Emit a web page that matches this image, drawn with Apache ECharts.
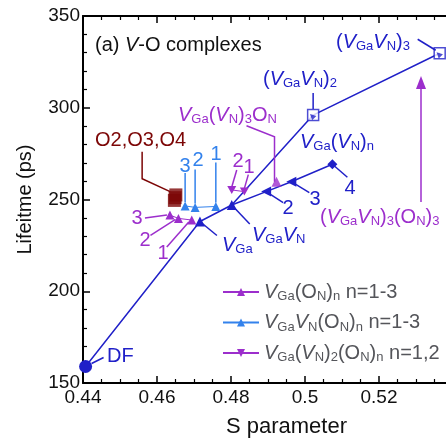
<!DOCTYPE html>
<html>
<head>
<meta charset="utf-8">
<script src="https://cdn.jsdelivr.net/npm/echarts@6/dist/echarts.min.js"></script>
<style>
html, body { margin: 0; padding: 0; background: #fff; overflow: hidden; }
#chart { width: 490px; height: 440px; }
</style>
</head>
<body>
<div id="chart"></div>
<script>
var BLUE = '#2020c8', LBLUE = '#3382ec', PURPLE = '#9c2ecc', DRED = '#7c0606';
var FONT = '"Liberation Sans", Arial, sans-serif';

// S parameter / lifetime (ps)
// DF -> VGa -> VGaVN -> (VGaVN)2 -> (VGaVN)3
var mainS = [0.4407, 0.4716, 0.4802, 0.5022, 0.5364];
var mainT = [159, 238, 247, 296, 329.7];
// VGa(VN)n, n = 1..4
var vnS = [0.4802, 0.4895, 0.4963, 0.5074];
var vnT = [247, 254.3, 259.7, 269.2];
// VGa(ON)n, n = 1..3
var onS = [0.4694, 0.4658, 0.4635];
var onT = [238.8, 239.7, 241.5];
// VGaVN(ON)n, n = 1..3
var vnonS = [0.4759, 0.4703, 0.4676];
var vnonT = [246.2, 245.7, 246.5];
// VGa(VN)2(ON)n, n = 1,2
var v2onS = [0.4836, 0.4802];
var v2onT = [254.3, 255.2];
// VGa(VN)3ON
var v3onS = [0.4923];
var v3onT = [259.7];
// O2, O3, O4
var oxS = [0.4647, 0.4649, 0.4651];
var oxT = [249.5, 251, 252.5];

// the figure is cut at the right; the axis runs to 0.55 past the edge of the window
var xTicks = { min: 0.44, max: 0.55, interval: 0.02, lastLabel: 0.52 };
var yTicks = { min: 150, max: 350, interval: 50 };

function zip(a, b) { return a.map(function (v, i) { return [v, b[i]]; }); }

var rich = {
  n: { fontSize: 20, lineHeight: 22, fontFamily: FONT },
  i: { fontSize: 20, lineHeight: 22, fontFamily: FONT, fontStyle: 'italic' },
  s: { fontSize: 13, lineHeight: 10, fontFamily: FONT, verticalAlign: 'bottom' }
};

var legendNames = ['VGa(ON)n', 'VGaVN(ON)n', 'VGa(VN)2(ON)n'];
var legendText = {
  'VGa(ON)n': '{i|V}{s|Ga}{n|(O}{s|N}{n|)}{s|n}{n| n=1-3}',
  'VGaVN(ON)n': '{i|V}{s|Ga}{i|V}{s|N}{n|(O}{s|N}{n|)}{s|n}{n| n=1-3}',
  'VGa(VN)2(ON)n': '{i|V}{s|Ga}{n|(}{i|V}{s|N}{n|)}{s|2}{n|(O}{s|N}{n|)}{s|n}{n| n=1,2}'
};

var mainSymbols = ['circle', 'triangle', 'triangle', 'none', 'none'];
var mainSizes = [13, 10, 10, 0, 0];
var vnSymbols = ['none', 'triangle', 'triangle', 'diamond'];
var downTri = 'path://M0,0 L10,0 L5,9 Z';

var chart = echarts.init(document.getElementById('chart'));

function axisCommon() {
  return {
    axisLine: { lineStyle: { color: '#000', width: 2 } },
    axisTick: { inside: true, length: 7, lineStyle: { color: '#000', width: 1.5 } },
    minorTick: { show: true, length: 4, lineStyle: { color: '#000', width: 1.2 } },
    splitLine: { show: false }
  };
}

var xb = Object.assign(axisCommon(), {
  type: 'value', min: xTicks.min, max: xTicks.max, interval: xTicks.interval,
  name: 'S parameter', nameLocation: 'middle', nameGap: 33,
  nameTextStyle: { fontSize: 22, fontFamily: FONT, color: '#111' },
  axisLabel: { fontSize: 19, fontFamily: FONT, color: '#111', margin: 5,
    formatter: function (v) { return v > xTicks.lastLabel + 1e-6 ? '' : String(+v.toFixed(2)); } }
});
xb.minorTick.splitNumber = 4;
var xt = Object.assign(axisCommon(), {
  type: 'value', position: 'top', min: xTicks.min, max: xTicks.max, interval: xTicks.interval,
  axisLabel: { show: false }
});
xt.minorTick.splitNumber = 4;
var yl = Object.assign(axisCommon(), {
  type: 'value', min: yTicks.min, max: yTicks.max, interval: yTicks.interval,
  name: 'Lifeitme (ps)', nameLocation: 'middle', nameGap: 48,
  nameTextStyle: { fontSize: 20, fontFamily: FONT, color: '#111' },
  axisLabel: { fontSize: 19, fontFamily: FONT, color: '#111', margin: 3 }
});
yl.minorTick.splitNumber = 5;

chart.setOption({
  animation: false,
  backgroundColor: '#fff',
  grid: { left: 83, top: 16, bottom: 57, right: 0, containLabel: false, outerBoundsMode: 'none' },
  xAxis: [xb, xt],
  yAxis: [yl],
  legend: {
    data: legendNames, orient: 'vertical', left: 217, top: 277,
    itemWidth: 36, itemHeight: 10, itemGap: 9.5,
    formatter: function (n) { return legendText[n]; },
    textStyle: { fontSize: 20, fontFamily: FONT, rich: rich }
  },
  series: [
    { name: 'main', type: 'line', data: zip(mainS, mainT), z: 3,
      symbol: function (v, p) { return mainSymbols[p.dataIndex]; },
      symbolSize: function (v, p) { return mainSizes[p.dataIndex]; },
      itemStyle: { color: BLUE }, lineStyle: { color: BLUE, width: 1.5 } },
    { name: 'VGa(VN)n', type: 'line', data: zip(vnS, vnT), z: 3,
      symbol: function (v, p) { return vnSymbols[p.dataIndex]; },
      symbolSize: 10,
      symbolRotate: function (v, p) { return p.dataIndex === 3 ? 0 : 90; },
      itemStyle: { color: BLUE }, lineStyle: { color: BLUE, width: 1.5 } },
    { name: '(VGaVN)n box', type: 'scatter', data: zip(mainS.slice(3), mainT.slice(3)), z: 4,
      symbol: 'rect', symbolSize: 11,
      itemStyle: { color: '#fff', borderColor: BLUE, borderWidth: 1.5 } },
    { name: '(VGaVN)n tri', type: 'scatter', data: zip(mainS.slice(3), mainT.slice(3)), z: 5,
      symbol: 'triangle', symbolSize: 6, symbolRotate: 45, symbolOffset: [-1, 1],
      itemStyle: { color: BLUE } },
    { name: 'VGa(ON)n', type: 'line', data: zip(onS, onT), z: 3,
      symbol: 'triangle', symbolSize: 9,
      itemStyle: { color: PURPLE }, lineStyle: { color: PURPLE, width: 1 } },
    { name: 'VGaVN(ON)n', type: 'line', data: zip(vnonS, vnonT), z: 3,
      symbol: 'triangle', symbolSize: 9,
      itemStyle: { color: LBLUE }, lineStyle: { color: LBLUE, width: 1 } },
    { name: 'VGa(VN)2(ON)n', type: 'line', data: zip(v2onS, v2onT), z: 3,
      symbol: downTri, symbolSize: [9, 8],
      itemStyle: { color: PURPLE }, lineStyle: { color: PURPLE, width: 1 } },
    { name: 'VGa(VN)3ON', type: 'scatter', data: zip(v3onS, v3onT), z: 3,
      symbol: 'triangle', symbolSize: 10, itemStyle: { color: PURPLE } },
    { name: 'O2,O3,O4', type: 'scatter', data: zip(oxS, oxT), z: 3,
      symbol: 'rect', symbolSize: 13, itemStyle: { color: DRED } }
  ]
});

// annotations: leaders anchored to marks (pixel offsets), labels in pixels
function px(s, t) { return chart.convertToPixel({ gridIndex: 0 }, [s, t]); }

var leaders = [
  { at: [mainS[0], mainT[0]], pts: [[6, -3], [18, -9]], c: BLUE },
  { at: [mainS[1], mainT[1]], pts: [[0, 0], [17, 14]], c: BLUE },
  { at: [mainS[2], mainT[2]], pts: [[0, 0], [18, 19]], c: BLUE },
  { at: [vnS[1], vnT[1]], pts: [[0, 0], [17, 11]], c: BLUE },
  { at: [vnS[2], vnT[2]], pts: [[0, 0], [18, 11]], c: BLUE },
  { at: [vnS[3], vnT[3]], pts: [[0, 0], [15, 13]], c: BLUE },
  { at: [mainS[3], mainT[3]], pts: [[0, -6], [0, -22]], c: BLUE },
  { at: [mainS[4], mainT[4]], pts: [[-4, -3], [-22, -14]], c: BLUE },
  { at: [v3onS[0], v3onT[0]], pts: [[-2, 0], [-2, -45], [-30, -56]], c: PURPLE },
  { at: [oxS[1], oxT[1]], pts: [[-5, -6], [-33, -19], [-33, -46]], c: DRED },
  { at: [vnonS[2], vnonT[2]], pts: [[0, -4], [0, -33]], c: LBLUE },
  { at: [vnonS[1], vnonT[1]], pts: [[0, -4], [0, -38]], c: LBLUE },
  { at: [vnonS[0], vnonT[0]], pts: [[0, -4], [0, -44]], c: LBLUE },
  { at: [onS[2], onT[2]], pts: [[-3, 0], [-25, 3]], c: PURPLE },
  { at: [onS[1], onT[1]], pts: [[-3, 1], [-28, 17]], c: PURPLE },
  { at: [onS[0], onT[0]], pts: [[-3, 2], [-25, 27]], c: PURPLE },
  { at: [v2onS[1], v2onT[1]], pts: [[0, -3], [5, -20]], c: PURPLE },
  { at: [v2onS[0], v2onT[0]], pts: [[0, -3], [4, -17]], c: PURPLE }
];

var labels = [
  ['{n|(a) }{i|V}{n|-O complexes}', 95, 45, '#111', 'left'],
  ['{n|DF}', 107, 356, BLUE, 'left'],
  ['{n|O2,O3,O4}', 95, 140, DRED, 'left'],
  ['{n|3}', 185, 166, LBLUE, 'center'],
  ['{n|2}', 198, 160, LBLUE, 'center'],
  ['{n|1}', 216, 154, LBLUE, 'center'],
  ['{n|3}', 137, 218, PURPLE, 'center'],
  ['{n|2}', 145, 240, PURPLE, 'center'],
  ['{n|1}', 163, 253, PURPLE, 'center'],
  ['{n|2}', 238, 161, PURPLE, 'center'],
  ['{n|1}', 249, 167, PURPLE, 'center'],
  ['{i|V}{s|Ga}', 222, 245, BLUE, 'left'],
  ['{i|V}{s|Ga}{i|V}{s|N}', 252, 235, BLUE, 'left'],
  ['{i|V}{s|Ga}{n|(}{i|V}{s|N}{n|)}{s|n}', 300, 142, BLUE, 'left'],
  ['{n|2}', 288, 208, BLUE, 'center'],
  ['{n|3}', 315, 199, BLUE, 'center'],
  ['{n|4}', 350, 188, BLUE, 'center'],
  ['{n|(}{i|V}{s|Ga}{i|V}{s|N}{n|)}{s|2}', 263, 79, BLUE, 'left'],
  ['{n|(}{i|V}{s|Ga}{i|V}{s|N}{n|)}{s|3}', 336, 42, BLUE, 'left'],
  ['{i|V}{s|Ga}{n|(}{i|V}{s|N}{n|)}{s|3}{n|O}{s|N}', 178, 115, PURPLE, 'left'],
  ['{n|(}{i|V}{s|Ga}{i|V}{s|N}{n|)}{s|3}{n|(O}{s|N}{n|)}{s|3}', 320, 217, PURPLE, 'left']
];

var g = [];
leaders.forEach(function (l) {
  var p = px(l.at[0], l.at[1]);
  g.push({ type: 'polyline', z: 10, silent: true,
    shape: { points: l.pts.map(function (d) { return [p[0] + d[0], p[1] + d[1]]; }) },
    style: { stroke: l.c, lineWidth: 1.5, fill: null } });
});
labels.forEach(function (t) {
  g.push({ type: 'text', z: 11, silent: true, x: t[1], y: t[2],
    style: { text: t[0], fill: t[3], rich: rich, fontSize: 20, fontFamily: FONT,
      align: t[4], verticalAlign: 'middle' } });
});
// arrow pointing to (VGaVN)3(ON)3
g.push({ type: 'line', z: 10, silent: true, shape: { x1: 421, y1: 202, x2: 421, y2: 86 },
  style: { stroke: PURPLE, lineWidth: 1.5 } });
g.push({ type: 'polygon', z: 10, silent: true, shape: { points: [[421, 76], [416, 89], [426, 89]] },
  style: { fill: PURPLE } });

chart.setOption({ graphic: g });
</script>
</body>
</html>
